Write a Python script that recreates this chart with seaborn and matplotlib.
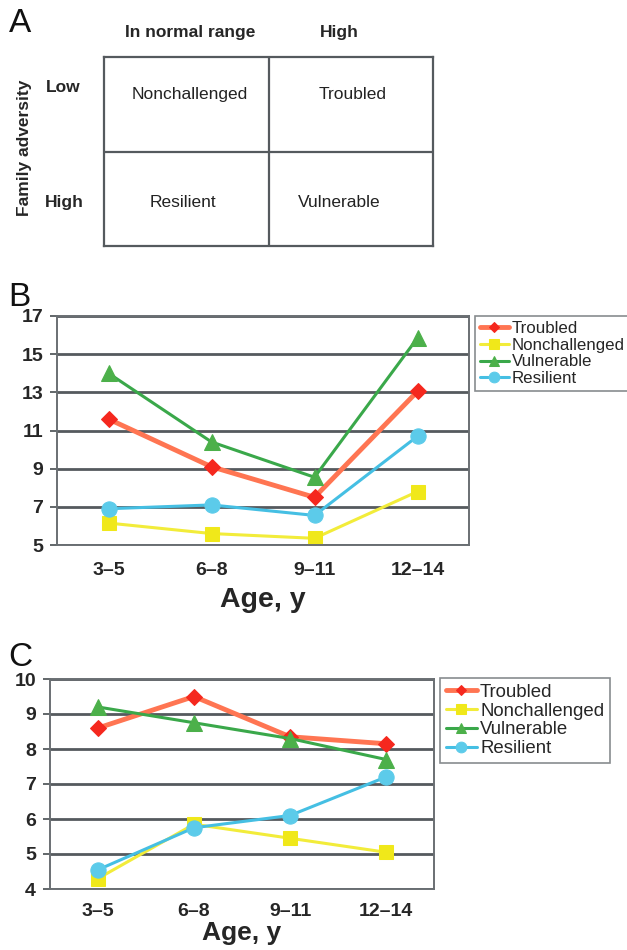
import matplotlib
matplotlib.use("Agg")
import matplotlib.pyplot as plt
import seaborn as sns
import pandas as pd

# Data
ages = ["3–5", "6–8", "9–11", "12–14"]
groups = ["Troubled", "Nonchallenged", "Vulnerable", "Resilient"]

# Panel B
b_troubled = [11.6, 9.1, 7.5, 13.05]
b_nonchallenged = [6.15, 5.6, 5.35, 7.8]
b_vulnerable = [14.0, 10.4, 8.55, 15.85]
b_resilient = [6.9, 7.1, 6.55, 10.7]

# Panel C
c_troubled = [8.6, 9.5, 8.35, 8.15]
c_nonchallenged = [4.3, 5.85, 5.45, 5.05]
c_vulnerable = [9.2, 8.75, 8.3, 7.7]
c_resilient = [4.55, 5.75, 6.1, 7.2]

# Panel A table
col_headers = ["In normal range", "High"]
row_headers = ["Low", "High"]
cells = [["Nonchallenged", "Troubled"], ["Resilient", "Vulnerable"]]

line_colors = {"Troubled": "#ff7552", "Nonchallenged": "#f2ec3a",
               "Vulnerable": "#3aa84a", "Resilient": "#45bfe3"}
marker_colors = {"Troubled": "#f5281e", "Nonchallenged": "#f0e81a",
                 "Vulnerable": "#4cb04a", "Resilient": "#5ccbea"}
markers = {"Troubled": "D", "Nonchallenged": "s", "Vulnerable": "^", "Resilient": "o"}
marker_sizes = {"Troubled": 8, "Nonchallenged": 10, "Vulnerable": 11, "Resilient": 11}
line_widths = {"Troubled": 3.5, "Nonchallenged": 2.2, "Vulnerable": 2.2, "Resilient": 2.2}

sns.set_style("white")
plt.rcParams["font.family"] = ["Liberation Sans", "DejaVu Sans"]

fig = plt.figure(figsize=(6.27, 9.5), dpi=100)
W, H = 627, 950


def fx(px):
    return px / W


def fy(py):
    return 1 - py / H


# ---- Panel A ----
ax_a = fig.add_axes([fx(104), fy(246), fx(433 - 104), (246 - 57) / H])
ax_a.set_xlim(0, 2)
ax_a.set_ylim(0, 2)
ax_a.set_xticks([])
ax_a.set_yticks([])
for sp in ax_a.spines.values():
    sp.set_color("#555a5e")
    sp.set_linewidth(1.6)
ax_a.axvline(1, color="#555a5e", lw=1.6)
ax_a.axhline(1, color="#555a5e", lw=1.6)
cell_pos = [[(0.52, 1.6), (1.51, 1.6)], [(0.48, 0.46), (1.43, 0.46)]]
for i in range(2):
    for j in range(2):
        x, y = cell_pos[i][j]
        ax_a.text(x, y, cells[i][j], ha="center", va="center", fontsize=12.5, color="#222")

fig.text(fx(9), fy(24), "A", fontsize=24, ha="left", va="center", color="#111")
fig.text(fx(190), fy(33), col_headers[0], fontsize=12.5, fontweight="bold", ha="center", va="center")
fig.text(fx(339), fy(33), col_headers[1], fontsize=12.5, fontweight="bold", ha="center", va="center")
fig.text(fx(46), fy(88), row_headers[0], fontsize=12.5, fontweight="bold", ha="left", va="center")
fig.text(fx(45), fy(202), row_headers[1], fontsize=12.5, fontweight="bold", ha="left", va="center")
fig.text(fx(25), fy(148), "Family adversity", fontsize=12.5, fontweight="bold",
         rotation=90, ha="center", va="center")


def draw_panel(ax, series, ylim, yticks, tick_pad, label_size, label_pad):
    rows = []
    for g, vals in zip(groups, series):
        for a, v in zip(ages, vals):
            rows.append({"Age": a, "Value": v, "Group": g})
    df = pd.DataFrame(rows)

    for g in groups:
        sub = df[df["Group"] == g]
        sns.lineplot(data=sub, x="Age", y="Value", ax=ax, color=line_colors[g],
                     lw=line_widths[g], marker=markers[g], markersize=marker_sizes[g],
                     markerfacecolor=marker_colors[g], markeredgecolor=marker_colors[g],
                     label=g, sort=False)

    ax.set_xlim(-0.5, 3.5)
    ax.set_ylim(*ylim)
    ax.set_yticks(yticks)
    ax.set_yticklabels([str(t) for t in yticks], fontsize=14, fontweight="bold")
    ax.set_xticks(range(len(ages)))
    ax.set_xticklabels(ages, fontsize=14, fontweight="bold")
    ax.set_xticks([-0.5, 0.5, 1.5, 2.5, 3.5], minor=True)
    ax.tick_params(axis="x", which="major", length=0, pad=tick_pad)
    ax.tick_params(axis="x", which="minor", length=5, width=1.3, color="#555a5e", direction="out")
    ax.tick_params(axis="y", length=5, width=1.3, color="#555a5e", direction="out", pad=5, left=True)
    for t in yticks:
        ax.axhline(t, color="#555a5e", lw=2.0, zorder=0.5)
    for sp in ax.spines.values():
        sp.set_color("#6a6f73")
        sp.set_linewidth(1.4)
    ax.set_xlabel("Age, y", fontsize=label_size, fontweight="bold", labelpad=label_pad)
    ax.set_ylabel("")
    ax.get_legend().remove()


def add_legend(ax, x0, y0, size):
    handles, labels = ax.get_legend_handles_labels()
    leg = fig.legend(handles, labels, loc="upper left", bbox_to_anchor=(fx(x0), fy(y0)),
                     fontsize=size, frameon=True, fancybox=False, handlelength=1.7,
                     handletextpad=0.15, labelspacing=0.1, borderpad=0.3,
                     borderaxespad=0, markerscale=0.7)
    leg.get_frame().set_edgecolor("#6a6f73")
    leg.get_frame().set_linewidth(1.2)
    return leg


# ---- Panel B ----
ax_b = fig.add_axes([fx(57), fy(545), fx(469 - 57), (545 - 316) / H])
draw_panel(ax_b, [b_troubled, b_nonchallenged, b_vulnerable, b_resilient],
           (5, 17), [5, 7, 9, 11, 13, 15, 17], 12, 20.5, 6)
add_legend(ax_b, 475, 316, 12.2)
fig.text(fx(8), fy(297), "B", fontsize=24, ha="left", va="center", color="#111")

# ---- Panel C ----
ax_c = fig.add_axes([fx(50), fy(889), fx(434 - 50), (889 - 679) / H])
draw_panel(ax_c, [c_troubled, c_nonchallenged, c_vulnerable, c_resilient],
           (4, 10), [4, 5, 6, 7, 8, 9, 10], 10, 19, 1)
add_legend(ax_c, 440, 678, 13.4)
fig.text(fx(8), fy(657), "C", fontsize=24, ha="left", va="center", color="#111")

fig.savefig("out.png", dpi=100)
